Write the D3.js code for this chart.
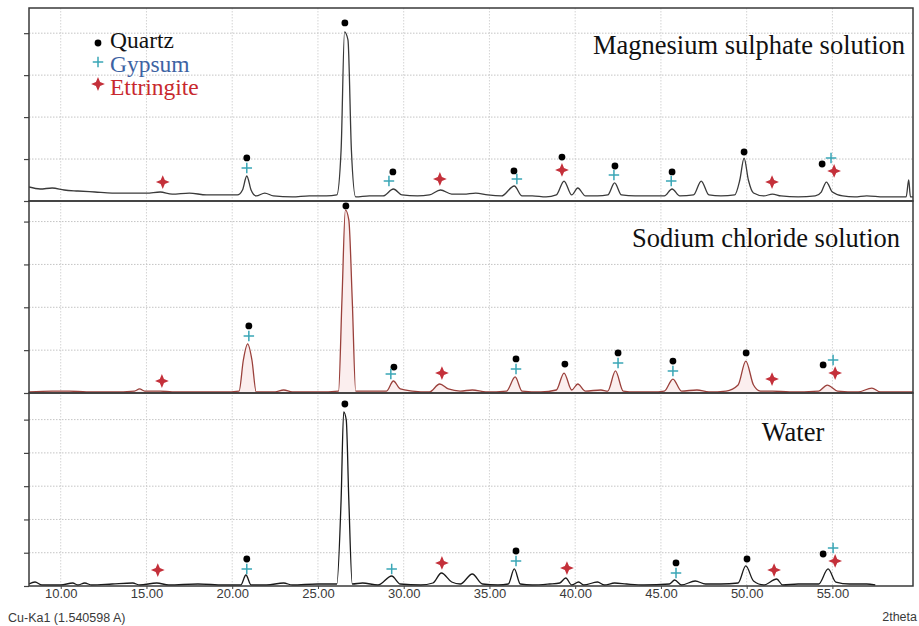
<!DOCTYPE html>
<html>
<head>
<meta charset="utf-8">
<script src="https://cdn.jsdelivr.net/npm/d3@7"></script>
<style>
  html, body { margin: 0; padding: 0; background: #fff; }
  svg { display: block; }
</style>
</head>
<body>
<svg id="chart" width="919" height="626"></svg>
<script>
// Data: [2theta, counts]
const twoThetaTicks = [10, 15, 20, 25, 30, 35, 40, 45, 50, 55];
const panelTitles = ["Magnesium sulphate solution", "Sodium chloride solution", "Water"];
const panelYMax = [2300, 2240, 2900];
const yTickStep = 500;

const mgsTrace = [
  [8.15,167],[8.8,143],[9.5,155],[10.2,131],[11.0,119],[12.0,107],[13.0,95],[14.0,95],[15.0,95],
  [15.8,107],[16.5,83],[17.5,95],[18.5,72],[19.5,72],[20.3,72],[20.6,131],[20.85,298],[21.1,131],
  [21.4,60],[21.9,95],[22.4,60],[23.5,48],[24.5,60],[25.5,60],[26.1,72],[26.35,608],[26.55,2015],
  [26.75,1919],[26.95,608],[27.2,48],[28.0,60],[28.8,60],[29.4,143],[29.9,72],[30.8,60],[31.5,72],
  [32.15,131],[32.8,83],[33.5,83],[34.2,95],[34.9,72],[35.7,60],[36.45,179],[36.9,60],[37.5,60],
  [38.3,48],[38.9,72],[39.35,238],[39.8,72],[40.15,155],[40.6,60],[41.3,60],[41.9,72],[42.3,215],
  [42.7,72],[43.5,60],[44.5,60],[45.2,60],[45.65,143],[46.1,60],[46.9,72],[47.35,238],[47.8,72],
  [48.5,60],[49.3,72],[49.6,250],[49.85,512],[50.1,250],[50.4,95],[51.0,60],[51.5,83],[52.0,60],
  [53.0,48],[54.0,60],[54.35,107],[54.65,226],[55.0,107],[55.6,60],[56.3,48],[57.0,60],[58.0,48],
  [59.3,48],[59.45,250],[59.55,48],[59.7,48]
];

const naclTrace = [
  [8.15,12],[9.5,23],[10.5,23],[11.5,12],[13.0,12],[14.3,23],[14.6,47],[14.9,23],[15.8,23],[16.5,12],
  [18.0,12],[19.5,12],[20.4,23],[20.65,385],[20.9,572],[21.15,385],[21.4,12],[22.5,12],[23.0,35],
  [23.5,12],[25.0,12],[26.2,23],[26.4,1085],[26.6,2136],[26.8,2019],[27.0,1085],[27.2,23],[28.0,23],
  [29.0,23],[29.4,140],[29.8,47],[30.5,23],[31.5,12],[32.1,105],[32.6,47],[33.3,23],[34.0,35],
  [34.8,12],[36.0,23],[36.5,187],[36.9,23],[38.0,12],[38.9,35],[39.35,233],[39.8,35],[40.15,105],
  [40.6,23],[41.5,35],[41.9,23],[42.35,257],[42.8,23],[43.5,12],[44.5,12],[45.2,23],[45.7,163],
  [46.2,23],[47.1,35],[47.8,12],[48.8,23],[49.5,93],[49.95,373],[50.4,93],[50.8,23],[51.5,23],
  [52.5,12],[54.2,23],[54.7,93],[55.3,23],[56.5,12],[57.3,58],[57.8,12],[59.7,12]
];

const waterTrace = [
  [8.15,30],[8.5,60],[8.9,15],[10.0,15],[10.7,45],[11.0,15],[11.4,45],[11.8,15],[13.0,30],[14.2,45],
  [14.6,15],[15.6,45],[16.3,15],[18.0,30],[19.5,15],[20.5,15],[20.8,165],[21.1,15],[22.0,15],[23.0,45],
  [23.5,15],[25.0,30],[26.1,30],[26.35,1293],[26.5,2615],[26.65,2495],[26.8,1293],[27.0,30],[27.6,45],
  [28.5,15],[29.3,150],[29.8,30],[31.0,15],[31.7,45],[32.2,195],[32.8,60],[33.3,30],[34.0,180],
  [34.6,30],[35.5,15],[36.1,30],[36.45,256],[36.8,30],[37.5,15],[38.5,30],[39.1,45],[39.45,120],
  [39.8,15],[40.2,60],[40.5,15],[41.3,60],[41.7,15],[42.3,45],[43.0,30],[44.0,15],[45.5,30],[45.8,90],
  [46.2,15],[47.0,75],[47.6,30],[48.5,30],[49.5,45],[49.95,301],[50.4,75],[51.0,15],[51.75,105],
  [52.1,15],[53.0,30],[54.2,30],[54.75,256],[55.2,60],[56.0,30],[57.0,30],[57.5,15]
];

// Phase markers: [phase, 2theta, counts]  Q = quartz, G = gypsum, E = ettringite
const mgsMarks = [
  ["E",15.95,226],["Q",20.85,513],["G",20.85,393],["Q",26.57,2122],["Q",29.37,346],["G",29.14,238],
  ["E",32.11,262],["Q",36.43,358],["G",36.6,262],["Q",39.23,524],["E",39.23,370],["Q",42.32,417],
  ["G",42.26,310],["Q",45.65,346],["G",45.6,238],["Q",49.85,584],["E",51.48,226],["Q",54.4,441],
  ["G",54.92,513],["E",55.1,358]
];
const naclMarks = [
  ["E",15.9,140],["Q",20.97,782],["G",20.97,665],["Q",26.63,2182],["Q",29.43,303],["G",29.25,222],
  ["E",32.23,233],["Q",36.55,397],["G",36.55,280],["Q",39.4,338],["Q",42.5,467],["G",42.5,350],
  ["Q",45.7,373],["G",45.7,257],["Q",49.97,467],["E",51.48,163],["Q",54.46,327],["G",55.04,385],
  ["E",55.16,233]
];
const waterMarks = [
  ["E",15.66,240],["Q",20.85,406],["G",20.85,255],["Q",26.57,2735],["G",29.3,255],["E",32.23,346],
  ["Q",36.55,526],["G",36.55,376],["E",39.52,270],["Q",45.88,346],["G",45.88,195],["Q",50.02,406],
  ["E",51.6,240],["Q",54.46,481],["G",55.04,571],["E",55.16,376]
];

const legendItems = [["Q", "Quartz"], ["G", "Gypsum"], ["E", "Ettringite"]];

const traces = [mgsTrace, naclTrace, waterTrace];
const marks = [mgsMarks, naclMarks, waterMarks];

// Layout
const left = 29, right = 913;
const panelTops = [8, 201, 393];
const bottom = 586;
const traceColors = ["#3a3a3a", "#9a403b", "#1a1a1a"];
const phaseColor = { Q: "#000", G: "#3aa6b6", E: "#c4303a" };
const legendTextColor = { Q: "#111", G: "#3d63a3", E: "#c8282e" };

const svg = d3.select("#chart");

const x = d3.scaleLinear().domain([8.15, 59.7]).range([left, right]);

// custom symbols
const star4 = {
  draw(ctx, size) {
    const r = Math.sqrt(size) / 2, k = r * 0.3;
    ctx.moveTo(0, -r); ctx.lineTo(k, -k); ctx.lineTo(r, 0); ctx.lineTo(k, k);
    ctx.lineTo(0, r); ctx.lineTo(-k, k); ctx.lineTo(-r, 0); ctx.lineTo(-k, -k);
    ctx.closePath();
  }
};
const plus = {
  draw(ctx, size) {
    const r = Math.sqrt(size) / 2;
    ctx.moveTo(-r, 0); ctx.lineTo(r, 0);
    ctx.moveTo(0, -r); ctx.lineTo(0, r);
  }
};

function drawMarker(g, phase, cx, cy) {
  if (phase === "Q") {
    g.append("circle").attr("cx", cx).attr("cy", cy).attr("r", 3.4).attr("fill", phaseColor.Q);
  } else if (phase === "G") {
    g.append("path").attr("d", d3.symbol().type(plus).size(110)())
      .attr("transform", `translate(${cx},${cy})`)
      .attr("fill", "none").attr("stroke", phaseColor.G).attr("stroke-width", 1.5);
  } else {
    g.append("path").attr("d", d3.symbol().type(star4).size(190)())
      .attr("transform", `translate(${cx},${cy})`)
      .attr("fill", phaseColor.E);
  }
}

const defs = svg.append("defs");

// vertical grid across whole plot
svg.append("g").selectAll("line").data(twoThetaTicks).join("line")
  .attr("x1", d => x(d)).attr("x2", d => x(d))
  .attr("y1", panelTops[0]).attr("y2", bottom)
  .attr("stroke", "#d4d4d4").attr("stroke-dasharray", "1.5,1.5");

panelTitles.forEach((title, i) => {
  const top = panelTops[i];
  const bot = i < 2 ? panelTops[i + 1] : bottom;
  const y = d3.scaleLinear().domain([0, panelYMax[i]]).range([bot, top]);
  const g = svg.append("g");
  const yTicks = d3.range(yTickStep, panelYMax[i], yTickStep);

  // horizontal grid
  g.selectAll(".hgrid").data(yTicks).join("line")
    .attr("x1", left).attr("x2", right)
    .attr("y1", d => y(d)).attr("y2", d => y(d))
    .attr("stroke", "#c4c4c4").attr("stroke-dasharray", "1.5,1.5");

  // left ticks
  const yAxis = d3.axisLeft(y).tickValues(yTicks.concat([0])).tickSize(5).tickFormat("");
  g.append("g").attr("transform", `translate(${left},0)`).call(yAxis)
    .call(s => s.select(".domain").remove())
    .call(s => s.selectAll(".tick line").attr("stroke", "#444").attr("stroke-width", 1.2));

  defs.append("clipPath").attr("id", "clip" + i).append("rect")
    .attr("x", left).attr("y", top).attr("width", right - left).attr("height", bot - top);

  const line = d3.line().x(d => x(d[0])).y(d => y(d[1])).curve(d3.curveMonotoneX);
  if (i === 1) {
    const area = d3.area().x(d => x(d[0])).y0(bot).y1(d => y(d[1])).curve(d3.curveMonotoneX);
    g.append("path").datum(traces[i]).attr("d", area)
      .attr("fill", "#fbeeee").attr("clip-path", `url(#clip${i})`);
  }
  g.append("path").datum(traces[i]).attr("d", line)
    .attr("fill", "none").attr("stroke", traceColors[i]).attr("stroke-width", 1.3)
    .attr("clip-path", `url(#clip${i})`);

  marks[i].forEach(m => drawMarker(g, m[0], x(m[1]), y(m[2])));

  // panel separator / frame
  g.append("rect").attr("x", left).attr("y", top).attr("width", right - left).attr("height", bot - top)
    .attr("fill", "none").attr("stroke", "#3a3a3a").attr("stroke-width", 1.5);

  // title
  const t = g.append("text")
    .attr("font-family", "'Liberation Serif', 'Times New Roman', serif")
    .attr("font-size", 26.5).attr("fill", "#111").text(title);
  if (i === 0) t.attr("x", 905).attr("y", 54).attr("text-anchor", "end");
  if (i === 1) t.attr("x", 900).attr("y", 247).attr("text-anchor", "end");
  if (i === 2) t.attr("x", 793).attr("y", 441).attr("text-anchor", "middle");
});

// bottom x axis
const xAxis = d3.axisBottom(x).tickValues(twoThetaTicks).tickSize(3).tickPadding(0)
  .tickFormat(d3.format(".2f"));
svg.append("g").attr("transform", `translate(0,${bottom})`).call(xAxis)
  .call(s => s.select(".domain").remove())
  .call(s => s.selectAll(".tick line").attr("stroke", "#444"))
  .call(s => s.selectAll(".tick text")
    .attr("font-family", "'Liberation Sans', Arial, sans-serif")
    .attr("font-size", 13).attr("fill", "#3a3a3a"));

svg.append("text").attr("x", 8).attr("y", 622)
  .attr("font-family", "'Liberation Sans', Arial, sans-serif").attr("font-size", 12.5)
  .attr("fill", "#3a3a3a").text("Cu-Ka1 (1.540598 A)");
svg.append("text").attr("x", 917).attr("y", 621).attr("text-anchor", "end")
  .attr("font-family", "'Liberation Sans', Arial, sans-serif").attr("font-size", 12.5)
  .attr("fill", "#3a3a3a").text("2theta");

// legend
const legend = svg.append("g");
legendItems.forEach((d, i) => {
  const cy = [43, 62, 84][i];
  drawMarker(legend, d[0], 98, cy);
  legend.append("text").attr("x", 110).attr("y", 48 + i * 23.5)
    .attr("font-family", "'Liberation Serif', 'Times New Roman', serif")
    .attr("font-size", 23.5).attr("fill", legendTextColor[d[0]]).text(d[1]);
});
</script>
</body>
</html>
